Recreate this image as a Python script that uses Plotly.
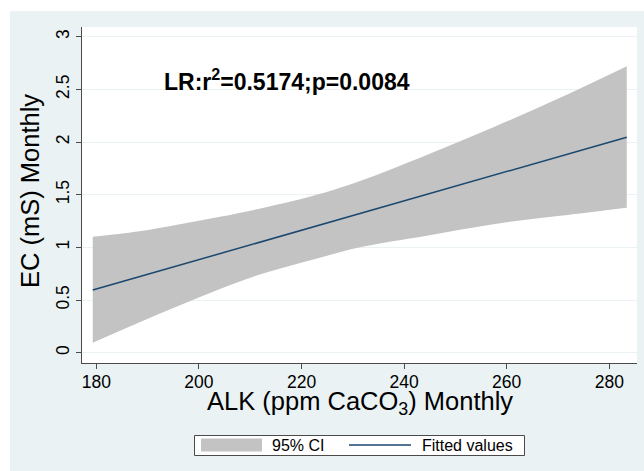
import plotly.graph_objects as go

# ---- data ----
alk = [179.3, 188.0, 196.3, 204.1, 212.0, 222.3, 231.4, 244.4, 257.4, 270.4, 283.4]
ci_upper = [1.10, 1.15, 1.22, 1.29, 1.37, 1.49, 1.63, 1.877, 2.14, 2.42, 2.72]
ci_lower = [0.095, 0.28, 0.45, 0.605, 0.745, 0.885, 1.00, 1.11, 1.22, 1.30, 1.377]
fitted = [0.595, 0.716, 0.832, 0.941, 1.051, 1.194, 1.321, 1.50, 1.684, 1.865, 2.046]
x_ticks = [180, 200, 220, 240, 260, 280]
y_ticks = [0, 0.5, 1, 1.5, 2, 2.5, 3]
y_tick_labels = ["0", "0.5", "1", "1.5", "2", "2.5", "3"]

W, H = 644, 471
L, R, T, B = 82, 637, 27, 363  # plot area in pixels
FONT = "Liberation Sans, Arial, Helvetica, sans-serif"
BG = "#EAF2F3"
BAND = "#C3C3C3"
LINE = "#1A476F"
AX = "#4A4A4A"


def px(x):
    return (x - L) / (R - L)


def py(y):
    return (B - y) / (B - T)


fig = go.Figure()
fig.add_trace(go.Scatter(
    x=alk, y=ci_upper, mode="lines", line=dict(width=0, shape="spline", color=BAND),
    hoverinfo="skip", showlegend=False, name="95% CI upper"))
fig.add_trace(go.Scatter(
    x=alk, y=ci_lower, mode="lines", line=dict(width=0, shape="spline", color=BAND),
    fill="tonexty", fillcolor=BAND, hoverinfo="skip", showlegend=False, name="95% CI"))
fig.add_trace(go.Scatter(
    x=alk, y=fitted, mode="lines", line=dict(color=LINE, width=1.5),
    showlegend=False, name="Fitted values"))

shapes = [
    # white strips outside the light background
    dict(type="rect", xref="paper", yref="paper", x0=px(0), x1=px(W), y0=py(0), y1=py(11),
         fillcolor="white", line=dict(width=0), layer="below"),
    dict(type="rect", xref="paper", yref="paper", x0=px(0), x1=px(10), y0=py(0), y1=py(H),
         fillcolor="white", line=dict(width=0), layer="below"),
    # legend box
    dict(type="rect", xref="paper", yref="paper", x0=px(194.5), x1=px(524.5), y0=py(435.5), y1=py(455.5),
         fillcolor="white", line=dict(color=AX, width=1)),
    dict(type="rect", xref="paper", yref="paper", x0=px(201), x1=px(262), y0=py(438.5), y1=py(451.5),
         fillcolor=BAND, line=dict(width=0)),
    dict(type="line", xref="paper", yref="paper", x0=px(349), x1=px(411), y0=py(445), y1=py(445),
         line=dict(color=LINE, width=1.4)),
]

annotations = [
    dict(text="<b>LR:r<sup>2</sup>=0.5174;p=0.0084</b>", xref="paper", yref="paper",
         x=px(162), y=py(79.5), xanchor="left", yanchor="middle", showarrow=False,
         font=dict(family=FONT, size=23, color="black")),
    dict(text="ALK (ppm CaCO<sub>3</sub>) Monthly", xref="paper", yref="paper",
         x=px(359.5), y=py(403.5), xanchor="center", yanchor="middle", showarrow=False,
         font=dict(family=FONT, size=25.5, color="black")),
    dict(text="EC (mS) Monthly", xref="paper", yref="paper", textangle=-90,
         x=px(30), y=py(191), xanchor="center", yanchor="middle", showarrow=False,
         font=dict(family=FONT, size=25.5, color="black")),
    dict(text="95% CI", xref="paper", yref="paper", x=px(270), y=py(445.5),
         xanchor="left", yanchor="middle", showarrow=False,
         font=dict(family=FONT, size=16, color="black")),
    dict(text="Fitted values", xref="paper", yref="paper", x=px(419.5), y=py(445.5),
         xanchor="left", yanchor="middle", showarrow=False,
         font=dict(family=FONT, size=16, color="black")),
]

fig.update_layout(
    width=W, height=H,
    margin=dict(l=L, r=W - R, t=T, b=H - B, pad=0),
    paper_bgcolor=BG, plot_bgcolor="white",
    font=dict(family=FONT, size=17.5, color="black"),
    showlegend=False,
    shapes=shapes, annotations=annotations,
    xaxis=dict(range=[177.2, 285.4], tickvals=x_ticks, ticks="outside", ticklen=5,
               tickcolor=AX, tickwidth=1, showline=True, linecolor=AX, linewidth=1,
               showgrid=False, zeroline=False, tickfont=dict(size=17.5, color="black"),
               ticklabelstandoff=-2),
    yaxis=dict(range=[-0.098, 3.092], tickvals=y_ticks, ticktext=y_tick_labels,
               ticks="outside", ticklen=5, tickcolor=AX, tickwidth=1, tickangle=-90,
               showline=True, linecolor=AX, linewidth=1, showgrid=True, gridcolor=BG,
               gridwidth=1, zeroline=False, tickfont=dict(size=17.5, color="black")),
)

fig.write_html("out.html")
